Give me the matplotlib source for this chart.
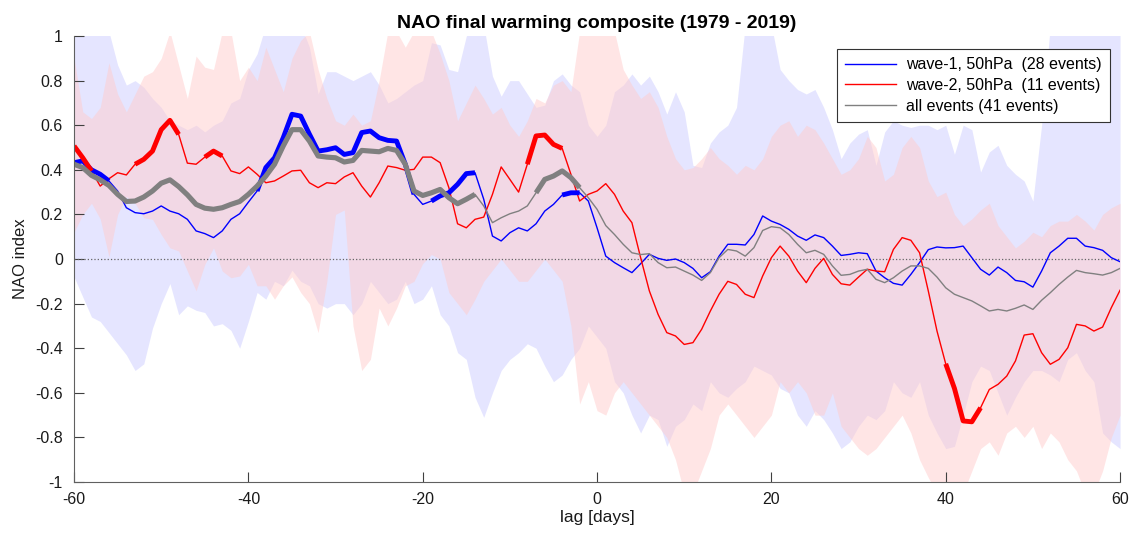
import matplotlib.pyplot as plt
import numpy as np

plt.rcParams['font.family'] = ['Liberation Sans', 'DejaVu Sans']
plt.rcParams['axes.unicode_minus'] = False

days = np.arange(-60, 61)

# composite NAO index, one value per lag day (-60 .. 60)
wave1 = [0.432, 0.44, 0.40, 0.38, 0.35, 0.305, 0.23, 0.208, 0.203, 0.215,
         0.238, 0.215, 0.203, 0.178, 0.126, 0.114, 0.096, 0.126, 0.178, 0.203,
         0.255, 0.305, 0.41, 0.454, 0.544, 0.649, 0.641, 0.56, 0.484, 0.49,
         0.499, 0.469, 0.477, 0.567, 0.574, 0.544, 0.532, 0.529, 0.425, 0.29,
         0.245, 0.26, 0.283, 0.297, 0.335, 0.383, 0.387, 0.268, 0.103, 0.081,
         0.118, 0.14, 0.126, 0.158, 0.215, 0.245, 0.287, 0.297, 0.297, 0.26,
         0.14, 0.013, -0.016, -0.039, -0.061, -0.021, 0.021, 0.003, -0.006, 0.0,
         -0.016, -0.042, -0.084, -0.057, 0.013, 0.066, 0.066, 0.063, 0.11, 0.193,
         0.17, 0.155, 0.133, 0.103, 0.084, 0.108, 0.096, 0.058, 0.016, 0.021,
         0.028, 0.024, -0.054, -0.084, -0.109, -0.117, -0.069, -0.016, 0.042, 0.054,
         0.05, 0.051, 0.058, 0.006, -0.046, -0.072, -0.036, -0.061, -0.096, -0.102,
         -0.126, -0.054, 0.028, 0.058, 0.093, 0.093, 0.058, 0.051, 0.039, 0.006,
         -0.012]
wave2 = [0.507, 0.454, 0.395, 0.327, 0.36, 0.387, 0.377, 0.425, 0.447, 0.484,
         0.58, 0.622, 0.559, 0.43, 0.425, 0.457, 0.484, 0.462, 0.395, 0.383,
         0.413, 0.38, 0.342, 0.35, 0.372, 0.395, 0.398, 0.342, 0.32, 0.342,
         0.338, 0.368, 0.387, 0.327, 0.278, 0.342, 0.417, 0.41, 0.398, 0.402,
         0.457, 0.457, 0.432, 0.32, 0.158, 0.14, 0.178, 0.188, 0.29, 0.413,
         0.357, 0.30, 0.425, 0.552, 0.556, 0.514, 0.496, 0.38, 0.26, 0.29,
         0.305, 0.338, 0.29, 0.215, 0.163, 0.006, -0.143, -0.248, -0.33, -0.345,
         -0.383, -0.375, -0.315, -0.233, -0.158, -0.10, -0.114, -0.158, -0.173, -0.076,
         0.006, 0.058, 0.013, -0.054, -0.106, -0.042, 0.003, -0.069, -0.111, -0.117,
         -0.081, -0.046, -0.054, -0.057, 0.043, 0.096, 0.084, 0.028, -0.143, -0.323,
         -0.47, -0.58, -0.726, -0.73, -0.667, -0.585, -0.562, -0.525, -0.457, -0.341,
         -0.335, -0.42, -0.472, -0.45, -0.398, -0.293, -0.30, -0.323, -0.305, -0.218,
         -0.14]
allev = [0.425, 0.41, 0.375, 0.355, 0.33, 0.29, 0.258, 0.26, 0.278, 0.305,
         0.34, 0.355, 0.325, 0.288, 0.245, 0.228, 0.223, 0.23, 0.245, 0.258,
         0.29, 0.327, 0.372, 0.425, 0.507, 0.58, 0.58, 0.529, 0.462, 0.457,
         0.454, 0.435, 0.442, 0.487, 0.484, 0.481, 0.496, 0.487, 0.425, 0.305,
         0.285, 0.297, 0.312, 0.275, 0.248, 0.268, 0.29, 0.238, 0.163, 0.185,
         0.203, 0.215, 0.238, 0.297, 0.357, 0.372, 0.395, 0.365, 0.32, 0.275,
         0.223, 0.15, 0.11, 0.066, 0.028, 0.02, 0.024, -0.016, -0.039, -0.036,
         -0.054, -0.072, -0.096, -0.061, 0.006, 0.043, 0.036, 0.013, 0.051, 0.128,
         0.145, 0.14, 0.11, 0.066, 0.028, 0.039, 0.021, -0.031, -0.073, -0.069,
         -0.054, -0.046, -0.091, -0.106, -0.084, -0.054, -0.031, -0.031, -0.042, -0.081,
         -0.129, -0.158, -0.173, -0.188, -0.21, -0.233, -0.226, -0.233, -0.221, -0.206,
         -0.226, -0.185, -0.151, -0.114, -0.081, -0.051, -0.061, -0.066, -0.072, -0.061,
         -0.042]

# spread of the single events
wave1_hi = [1.1, 1.1, 1.1, 1.1, 1.02, 0.87, 0.78, 0.8, 0.77, 0.72,
            0.68, 0.62, 0.6, 0.58, 0.6, 0.57, 0.6, 0.62, 0.7, 0.72,
            0.85, 0.92, 1.05, 1.1, 1.1, 1.1, 1.05, 0.95, 0.74, 0.84,
            0.84, 0.82, 0.8, 0.82, 0.84, 0.78, 0.7, 0.72, 0.75, 0.78,
            0.8, 0.97, 0.96, 0.85, 0.84, 1.0, 1.05, 1.05, 0.82, 0.73,
            0.8, 0.8, 0.74, 0.68, 0.69, 0.8, 0.83, 0.78, 0.75, 0.6,
            0.55, 0.6, 0.75, 0.78, 0.83, 0.78, 0.82, 0.75, 0.65, 0.75,
            0.66, 0.42, 0.41, 0.52, 0.57, 0.6, 0.68, 1.05, 1.05, 1.05,
            1.05, 0.85, 0.8, 0.76, 0.74, 0.76, 0.68, 0.58, 0.45, 0.52,
            0.56, 0.58, 0.42, 0.57, 0.62, 0.6, 0.59, 0.6, 0.6, 0.58,
            0.6, 0.47, 0.6, 0.58, 0.39, 0.48, 0.51, 0.42, 0.38, 0.35,
            0.26, 0.6, 1.05, 1.05, 1.05, 1.05, 1.05, 1.05, 1.05, 1.05,
            1.05]
wave1_lo = [-0.08, -0.17, -0.26, -0.28, -0.33, -0.38, -0.43, -0.50, -0.47, -0.31,
            -0.20, -0.11, -0.25, -0.21, -0.23, -0.24, -0.30, -0.29, -0.32, -0.40,
            -0.28, -0.15, -0.18, -0.1, -0.12, -0.05, -0.1, -0.12, -0.2, -0.22,
            -0.2, -0.2, -0.25, -0.2, -0.1, -0.15, -0.2, -0.18, -0.1, -0.2,
            -0.18, -0.12, -0.25, -0.3, -0.42, -0.45, -0.62, -0.71, -0.6, -0.5,
            -0.45, -0.42, -0.38, -0.4, -0.48, -0.55, -0.52, -0.45, -0.4, -0.3,
            -0.35, -0.4, -0.55, -0.6, -0.7, -0.78, -0.7, -0.72, -0.84, -0.75,
            -0.72, -0.65, -0.68, -0.55, -0.6, -0.62, -0.58, -0.55, -0.48, -0.5,
            -0.52, -0.58, -0.6, -0.7, -0.75, -0.68, -0.72, -0.78, -0.85, -0.82,
            -0.75, -0.7, -0.72, -0.68, -0.55, -0.6, -0.62, -0.55, -0.7, -0.78,
            -0.85, -0.84, -0.7, -0.55, -0.48, -0.5, -0.6, -0.7, -0.62, -0.55,
            -0.5, -0.5, -0.52, -0.55, -0.45, -0.42, -0.5, -0.55, -0.78, -0.82,
            -0.85]
wave2_hi = [0.9, 0.66, 0.63, 0.68, 0.88, 0.74, 0.66, 0.74, 0.82, 0.84,
            0.9, 1.02, 0.87, 0.72, 0.91, 0.86, 0.85, 1.02, 1.02, 0.8,
            0.86, 0.8, 0.95, 0.85, 0.75, 0.9, 0.98, 1.02, 0.85, 0.72,
            0.62, 0.6, 0.65, 0.6, 0.62, 0.8, 1.02, 1.02, 0.95, 1.02,
            1.02, 1.02, 0.92, 0.8, 0.62, 0.7, 0.78, 0.72, 0.65, 0.68,
            0.6, 0.55, 0.62, 0.72, 0.7, 0.78, 0.8, 0.75, 1.02, 1.02,
            1.02, 1.02, 1.02, 0.85, 0.78, 0.72, 0.75, 0.68, 0.55, 0.45,
            0.4, 0.41, 0.45, 0.5, 0.45, 0.42, 0.38, 0.42, 0.4, 0.45,
            0.55, 0.6, 0.62, 0.55, 0.6, 0.58, 0.52, 0.45, 0.38, 0.4,
            0.45, 0.55, 0.5, 0.35, 0.38, 0.5, 0.55, 0.5, 0.35, 0.28,
            0.3, 0.2, 0.15, 0.18, 0.22, 0.25, 0.15, 0.1, 0.05, 0.08,
            0.12, 0.1, 0.15, 0.17, 0.17, 0.2, 0.17, 0.13, 0.2, 0.23,
            0.25]
wave2_lo = [0.12, 0.2, 0.25, 0.18, 0.01, 0.2, 0.28, 0.25, 0.185, 0.178,
            0.11, 0.05, 0.036, -0.054, -0.143, -0.024, 0.05, -0.054, -0.084, -0.076,
            -0.024, -0.12, -0.12, -0.18, -0.12, -0.08, -0.15, -0.2, -0.33, -0.1,
            0.2, 0.22, -0.3, -0.5, -0.45, -0.22, -0.3, -0.22, -0.12, -0.1,
            -0.02, 0.02, 0.0, -0.15, -0.2, -0.25, -0.18, -0.1, -0.05, 0.0,
            -0.05, -0.1, -0.1, -0.05, 0.0, -0.05, -0.1, -0.3, -0.65, -0.55,
            -0.68, -0.7, -0.6, -0.55, -0.6, -0.65, -0.7, -0.75, -0.8, -0.9,
            -1.05, -1.05, -0.95, -0.85, -0.7, -0.65, -0.7, -0.75, -0.8, -0.75,
            -0.7, -0.55, -0.6, -0.55, -0.6, -0.7, -0.7, -0.6, -0.75, -0.8,
            -0.85, -0.88, -0.85, -0.8, -0.75, -0.7, -0.78, -0.9, -0.98, -1.05,
            -1.05, -1.05, -1.05, -0.95, -0.85, -0.82, -0.88, -0.78, -0.75, -0.8,
            -0.75, -0.85, -0.78, -0.82, -0.9, -0.95, -1.05, -1.05, -0.95, -0.8,
            -0.7]

# lag ranges where the composite is significant (drawn thick)
wave1_sig = [(-60, -56), (-39, -21), (-19, -14), (-4, -2)]
wave2_sig = [(-60, -58), (-53, -48), (-45, -43), (-8, -4), (40, 44)]
allev_sig = [(-60, -14), (-7, -2)]


def thick_part(vals, spans):
  v = np.array(vals, dtype=float)
  keep = np.zeros(len(days), dtype=bool)
  for a, b in spans:
    keep |= (days >= a) & (days <= b)
  v[~keep] = np.nan
  return v


fig = plt.figure(figsize=(11.34, 5.35), dpi=100)
ax = fig.add_axes([0.0653, 0.099, 0.9224, 0.8337])

ax.fill_between(days, wave1_lo, wave1_hi, color='#ccccff', alpha=0.5, lw=0)
ax.fill_between(days, wave2_lo, wave2_hi, color='#ffcccc', alpha=0.5, lw=0)
ax.plot([-60, 60], [0, 0], ':', color='#666666', lw=0.9)

ax.plot(days, wave1, color='blue', lw=1.0, label='wave-1, 50hPa  (28 events)')
ax.plot(days, wave2, color='red', lw=1.0, label='wave-2, 50hPa  (11 events)')
ax.plot(days, allev, color='#808080', lw=1.0, label='all events (41 events)')
ax.plot(days, thick_part(wave1, wave1_sig), color='blue', lw=3.5,
        solid_capstyle='butt')
ax.plot(days, thick_part(wave2, wave2_sig), color='red', lw=3.5,
        solid_capstyle='butt')
ax.plot(days, thick_part(allev, allev_sig), color='#808080', lw=3.7,
        solid_capstyle='butt')

ax.set_xlim(-60, 60)
ax.set_ylim(-1, 1)
ax.set_xticks(np.arange(-60, 61, 20))
ax.set_yticks(np.arange(-1, 1.01, 0.2))
ax.set_yticklabels(['-1', '-0.8', '-0.6', '-0.4', '-0.2', '0',
                    '0.2', '0.4', '0.6', '0.8', '1'])
ax.tick_params(direction='in', length=7, width=0.8, colors='#404040',
               labelsize=11.5, labelcolor='#1a1a1a', top=False, right=False)
ax.tick_params(axis='y', pad=8)
ax.tick_params(axis='x', pad=7)
for s in ['top', 'right']:
  ax.spines[s].set_visible(False)
for s in ['left', 'bottom']:
  ax.spines[s].set_color('#606060')
  ax.spines[s].set_linewidth(0.8)

ax.set_xlabel('lag [days]', fontsize=12.5, color='#1a1a1a', labelpad=2)
ax.set_ylabel('NAO index', fontsize=12, color='#1a1a1a', labelpad=5)
ax.set_title('NAO final warming composite (1979 - 2019)', fontsize=14,
             fontweight='bold', pad=6)

leg = ax.legend(loc='upper right', bbox_to_anchor=(0.99, 0.97), fontsize=11.5,
                fancybox=False, framealpha=1, edgecolor='#333333',
                handlelength=3.2, handletextpad=0.6, borderpad=0.5,
                labelspacing=0.35, borderaxespad=0)
leg.get_frame().set_linewidth(0.8)

fig.savefig('out.png', dpi=100)
